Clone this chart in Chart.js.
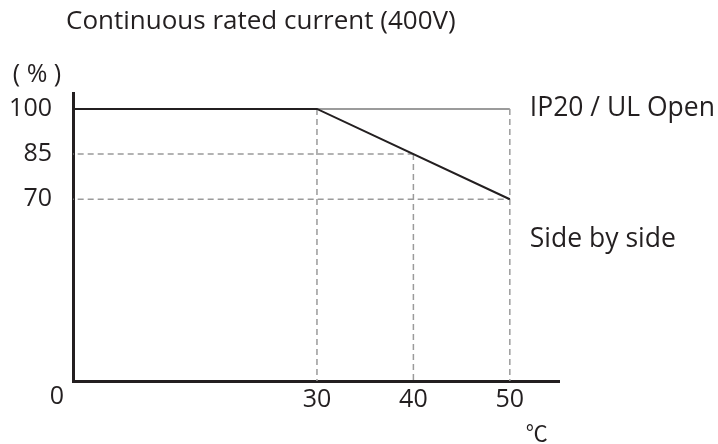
<!DOCTYPE html>
<html>
<head>
<meta charset="utf-8">
<script src="https://cdn.jsdelivr.net/npm/chart.js@4"></script>
<style>
  html, body { margin: 0; padding: 0; background: #ffffff; }
  #wrap { width: 718px; height: 444px; }
</style>
</head>
<body>
<div id="wrap"><canvas id="c" width="718" height="444"></canvas></div>
<script>
// ---- data ----
const chartTitle = "Continuous rated current (400V)";
const yUnit = "( % )";
const xUnit = "\u2103";
const originLabel = "0";

// Side by side derating curve (°C -> %)
const sideBySideTemp  = [0, 30, 50];
const sideBySideRated = [100, 100, 70];
const sideBySideLabel = "Side by side";

// IP20 / UL Open (continues at 100 % past 30 °C)
const ip20Temp  = [30, 50];
const ip20Rated = [100, 100];
const ip20Label = "IP20 / UL Open";

// reference guides
const guideTemps  = [30, 40, 50];
const guideTop    = [100, 85, 100];
const guideLevels = [85, 70];
const guideLevelTemps = [40, 50];

// tick labels
const xTicks = [30, 40, 50];
const yTicks = [70, 85, 100];

// axis ranges (axes are broken: origin labelled 0)
const X_MIN = 4.7, X_MAX = 55.1;
const Y_MIN = 9.6, Y_MAX = 105.3;

// ---- styles ----
const INK = '#231f20';
const GREY = '#9b9b9b';
const FONT = '"Open Sans", "DejaVu Sans", sans-serif';

function pts(xs, ys) { return xs.map((x, i) => ({ x: x, y: ys[i] })); }

const datasets = [];
datasets.push({
  label: sideBySideLabel,
  data: pts(sideBySideTemp, sideBySideRated),
  borderColor: INK, borderWidth: 2, pointRadius: 0, fill: false, clip: 0, tension: 0
});
datasets.push({
  label: ip20Label,
  data: pts(ip20Temp, ip20Rated),
  borderColor: GREY, borderWidth: 2, pointRadius: 0, fill: false, clip: 0, tension: 0
});
guideTemps.forEach((t, i) => {
  datasets.push({
    label: 'guide-v-' + t,
    data: [{ x: t, y: guideTop[i] }, { x: t, y: 0 }],
    borderColor: GREY, borderWidth: 1.5, borderDash: [6, 4], pointRadius: 0, fill: false, clip: 0
  });
});
guideLevels.forEach((r, i) => {
  datasets.push({
    label: 'guide-h-' + r,
    data: [{ x: 0, y: r }, { x: guideLevelTemps[i], y: r }],
    borderColor: GREY, borderWidth: 1.5, borderDash: [6, 4], pointRadius: 0, fill: false, clip: 0
  });
});

const textPlugin = {
  id: 'texts',
  afterDraw(chart) {
    const ctx = chart.ctx;
    const xs = chart.scales.x, ys = chart.scales.y;
    const ca = chart.chartArea;
    ctx.save();
    ctx.fillStyle = INK;
    // title
    ctx.font = '26px ' + FONT;
    ctx.textAlign = 'left';
    ctx.textBaseline = 'middle';
    ctx.fillText(chartTitle, 66, 22);
    // unit of y
    ctx.font = '25px ' + FONT;
    ctx.textAlign = 'center';
    ctx.fillText(yUnit, 37, 75);
    // origin
    ctx.fillText(originLabel, ca.left - 16, ca.bottom + 16);
    // series labels
    ctx.font = '26.5px ' + FONT;
    ctx.textAlign = 'left';
    const lx = xs.getPixelForValue(50) + 20;
    ctx.fillText(ip20Label, lx, ys.getPixelForValue(100));
    ctx.fillText(sideBySideLabel, lx, ys.getPixelForValue(70) + 40);
    // unit of x
    ctx.font = '22px "Noto Sans CJK JP", ' + FONT;
    ctx.textAlign = 'center';
    ctx.fillText(xUnit, xs.getPixelForValue(50) + 27, ca.bottom + 52);
    ctx.restore();
  }
};

new Chart(document.getElementById('c'), {
  type: 'line',
  data: { datasets: datasets },
  options: {
    responsive: false,
    animation: false,
    layout: { padding: { top: 93, left: 0, right: 159, bottom: 0 } },
    plugins: { legend: { display: false }, tooltip: { enabled: false }, title: { display: false } },
    scales: {
      x: {
        type: 'linear', min: X_MIN, max: X_MAX, z: 1,
        grid: { display: false, drawTicks: false },
        border: { display: true, color: INK, width: 3 },
        afterBuildTicks: s => { s.ticks = xTicks.map(v => ({ value: v })); },
        afterFit: s => { s.height = 63; },
        ticks: { color: INK, font: { family: FONT, size: 25 }, padding: 4, maxRotation: 0, autoSkip: false }
      },
      y: {
        type: 'linear', min: Y_MIN, max: Y_MAX, z: 1,
        grid: { display: false, drawTicks: false },
        border: { display: true, color: INK, width: 3 },
        afterBuildTicks: s => { s.ticks = yTicks.map(v => ({ value: v })); },
        afterFit: s => { s.width = 73; },
        ticks: { color: INK, font: { family: FONT, size: 25 }, padding: 21, autoSkip: false }
      }
    }
  },
  plugins: [textPlugin]
});
</script>
</body>
</html>
